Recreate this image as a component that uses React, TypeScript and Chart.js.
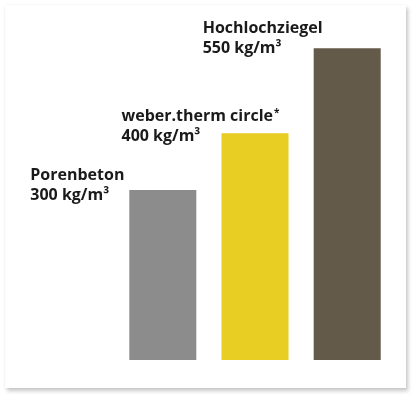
import React, { useEffect, useRef } from "react";
import { Chart, registerables } from "chart.js";

Chart.register(...registerables);

const categories = ["Porenbeton", "weber.therm circle", "Hochlochziegel"];
const categoryMarks = ["", "*", ""];
const densities = [300, 400, 550];
const valueLabels = ["300 kg/m³", "400 kg/m³", "550 kg/m³"];
const barColors = ["#8c8c8c", "#e8cd22", "#645a4a"];

const labelPlugin = {
  id: "barLabels",
  afterDatasetsDraw(chart: any, _args: any, opts: any) {
    const { ctx } = chart;
    const meta = chart.getDatasetMeta(0);
    ctx.save();
    ctx.fillStyle = opts.color;
    ctx.textAlign = "left";
    ctx.textBaseline = "alphabetic";
    meta.data.forEach((bar: any, i: number) => {
      const x = bar.x - bar.width / 2 + opts.dx[i];
      const y = bar.y + opts.dy[i];
      ctx.font = opts.font;
      ctx.fillText(categories[i], x, y);
      const w = ctx.measureText(categories[i]).width;
      ctx.fillText(valueLabels[i], x, y + opts.lineHeight);
      if (categoryMarks[i]) {
        ctx.font = opts.markFont;
        ctx.fillText(categoryMarks[i], x + w + 1, y - 5);
      }
    });
    ctx.restore();
  },
};

export default function App() {
  const ref = useRef<HTMLCanvasElement>(null);
  useEffect(() => {
    if (!ref.current) return;
    const chart = new Chart(ref.current, {
      type: "bar",
      data: {
        labels: categories,
        datasets: [
          {
            data: densities,
            backgroundColor: barColors,
            borderWidth: 0,
            categoryPercentage: 1,
            barPercentage: 0.727,
          },
        ],
      },
      options: {
        animation: false,
        responsive: false,
        devicePixelRatio: 1,
        layout: { padding: { left: 116.7, right: 24.7, top: 20, bottom: 40 } },
        scales: {
          x: { display: false },
          y: { display: false, min: 0, max: 600 },
        },
        plugins: {
          legend: { display: false },
          tooltip: { enabled: false },
          barLabels: {
            font: "700 16px 'Open Sans'",
            markFont: "700 10px 'Open Sans'",
            color: "#1a1a1a",
            dx: [-99, -100, -111],
            dy: [-10, -12, -15],
            lineHeight: 20,
          },
        } as any,
      },
      plugins: [labelPlugin],
    });
    return () => chart.destroy();
  }, []);

  return (
    <div style={{ position: "fixed", left: 0, top: 0, width: 418, height: 400, background: "#ffffff" }}>
      <div
        style={{
          position: "absolute",
          left: 5,
          top: 5,
          width: 401,
          height: 383,
          background: "#ffffff",
          boxShadow: "2px 3px 4px rgba(0,0,0,0.22), 0 0 2px rgba(0,0,0,0.06)",
        }}
      />
      <canvas ref={ref} width={418} height={400} style={{ position: "absolute", left: 0, top: 0 }} />
    </div>
  );
}
